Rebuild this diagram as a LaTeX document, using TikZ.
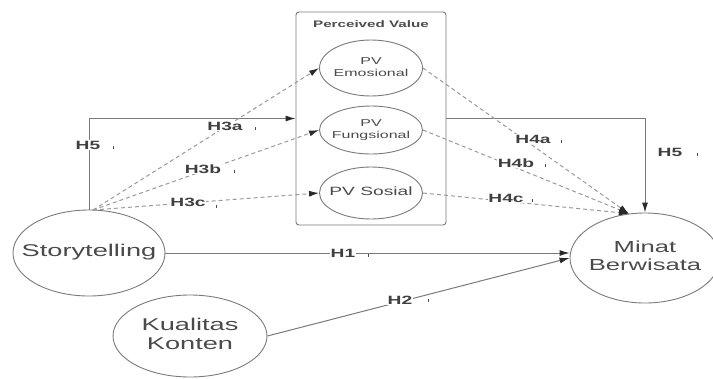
\documentclass[tikz,border=0pt]{standalone}
\usepackage{fontspec}
\setmainfont[FakeStretch=1.6]{Liberation Sans}
\usetikzlibrary{shapes.geometric,arrows.meta}
\definecolor{linegray}{HTML}{7A7A7A}
\definecolor{dashgray}{HTML}{9A9A9A}
\definecolor{txtgray}{HTML}{4A4A4A}
\definecolor{tipdark}{HTML}{2A2A2A}
\newcommand\zwtext[1]{\makebox[0pt][c]{\begin{tabular}{@{}c@{}}#1\end{tabular}}}
\tikzset{
  oval/.style={ellipse, draw=linegray, line width=0.9pt, inner sep=0pt, text=txtgray},
  pvbox/.style={draw=linegray, line width=0.9pt, rounded corners=3pt, inner sep=0pt},
  solidarrow/.style={draw=linegray, line width=1pt, -{Latex[length=10pt,width=6pt,color=tipdark]}},
  dasharrow/.style={draw=dashgray, line width=1pt, dash pattern=on 4pt off 3pt, -{Latex[length=10pt,width=6pt,color=tipdark]}},
  hlabel/.style={font=\fontsize{12}{14}\selectfont\bfseries, text=black!75, fill=white, inner sep=0.5pt},
  tickmark/.style={draw=black!70, line width=0.6pt}
}
\begin{document}
\begin{tikzpicture}[x=1pt,y=-1pt]
\useasboundingbox (0,0) rectangle (713,378);
% box
\node[pvbox, minimum width=150pt, minimum height=213pt] (pv) at (371,118.5) {};
\node[font=\fontsize{9.5}{11}\selectfont\bfseries, text=black!70] (pvt) at (371,24) {Perceived Value};
% PV ellipses
\node[oval, minimum width=103pt, minimum height=56pt, font=\fontsize{10}{12}\selectfont] (pe) at (371,68) {\zwtext{PV\\Emosional}};
\node[oval, minimum width=103pt, minimum height=48pt, font=\fontsize{10}{12}\selectfont] (pf) at (371,130) {\zwtext{PV\\Fungsional}};
\node[oval, minimum width=103pt, minimum height=52pt, font=\fontsize{12}{14}\selectfont] (ps) at (371,193) {\zwtext{PV Sosial}};
% main ellipses
\node[oval, minimum width=152pt, minimum height=86pt, font=\fontsize{17}{19}\selectfont] (st) at (89,253) {\zwtext{Storytelling}};
\node[oval, minimum width=150pt, minimum height=90pt, font=\fontsize{16}{18}\selectfont] (mb) at (645,258) {\zwtext{Minat\\Berwisata}};
\node[oval, minimum width=154pt, minimum height=82pt, font=\fontsize{17}{19}\selectfont] (kk) at (190,336) {\zwtext{Kualitas\\Konten}};
\coordinate (sttop) at (93,210);
% H5 paths
\draw[solidarrow] (st.north) |- (pv.west);
\draw[solidarrow] (pv.east) -| (mb.north);
% H3 dashed
\draw[dasharrow] (sttop) -- (pe.west);
\draw[dasharrow] (sttop) -- (pf.west);
\draw[dasharrow] (sttop) -- (ps.west);
% H4 dashed
\draw[dasharrow] (pe.east) -- (mb.110);
\draw[dasharrow] (pf.east) -- (mb.110);
\draw[dasharrow] (ps.east) -- (mb.110);
% H1, H2
\draw[solidarrow] (st.east) -- (st.east -| mb.west);
\draw[solidarrow] (kk.east) -- (mb.west);
% labels
\node[hlabel] (l5a) at (88,145) {H5};
\node[hlabel] (l3a) at (225,126) {H3a};
\node[hlabel] (l3b) at (203,169) {H3b};
\node[hlabel] (l3c) at (188,202) {H3c};
\node[hlabel] (l4a) at (533,139) {H4a};
\node[hlabel] (l4b) at (516,163) {H4b};
\node[hlabel] (l4c) at (506,198) {H4c};
\node[hlabel] (l5b) at (670,152) {H5};
\node[hlabel] (l1) at (343,253) {H1};
\node[hlabel] (l2) at (400,300) {H2};
% small tick marks
\draw[tickmark] ([xshift=12pt,yshift=-1pt]l5a.east) -- ++(0,3);
\draw[tickmark] ([xshift=12pt,yshift=-1pt]l3a.east) -- ++(0,3);
\draw[tickmark] ([xshift=12pt,yshift=-1pt]l3b.east) -- ++(0,3);
\draw[tickmark] ([xshift=10pt,yshift=-3pt]l3c.east) -- ++(0,3);
\draw[tickmark] ([xshift=10pt,yshift=-1pt]l4a.east) -- ++(0,3);
\draw[tickmark] ([xshift=10pt,yshift=-1pt]l4b.east) -- ++(0,3);
\draw[tickmark] ([xshift=8pt,yshift=-1pt]l4c.east) -- ++(0,3);
\draw[tickmark] ([xshift=14pt,yshift=-1pt]l5b.east) -- ++(0,3);
\draw[tickmark] ([xshift=12pt,yshift=-1pt]l1.east) -- ++(0,3);
\draw[tickmark] ([xshift=15pt,yshift=1pt]l2.east) -- ++(0,3);
\end{tikzpicture}
\end{document}
